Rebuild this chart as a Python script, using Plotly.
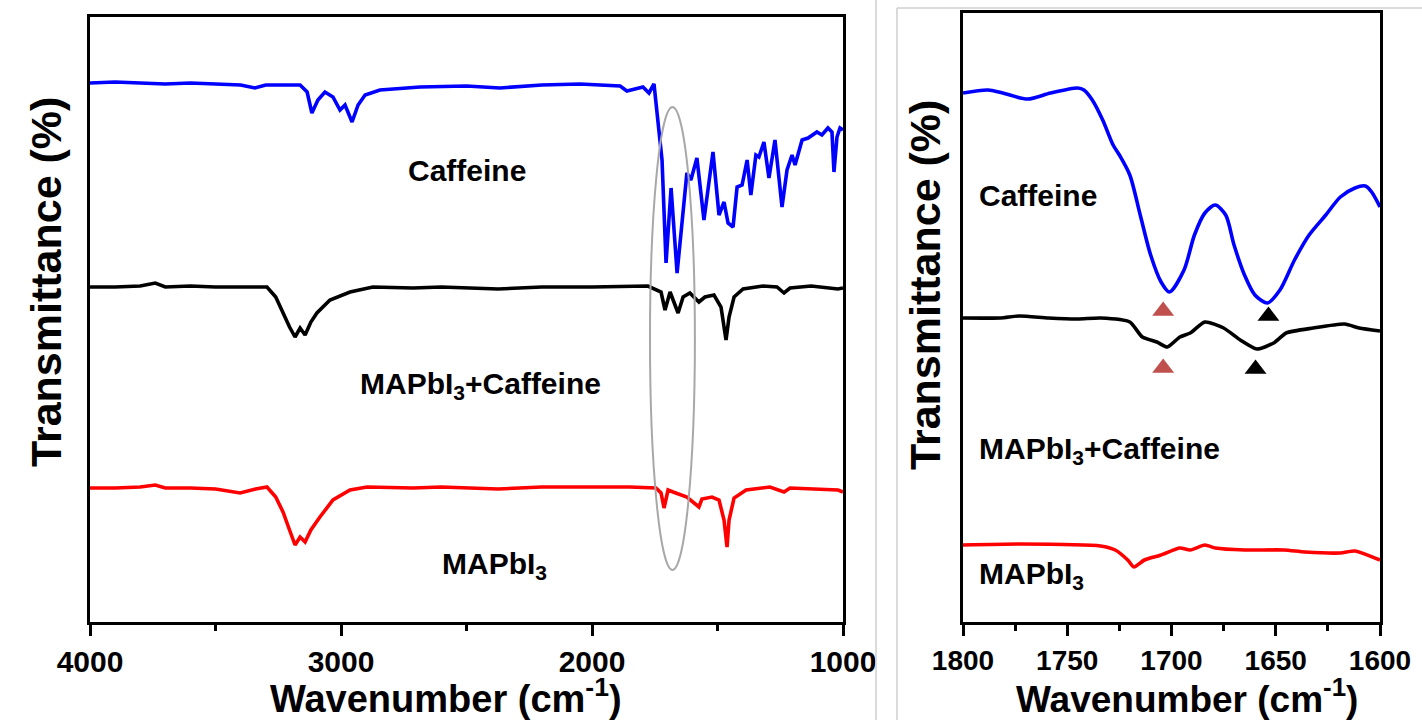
import plotly.graph_objects as go

# ---------------- data (left panel: full range) ----------------
blue_wn = [4000, 3900, 3800, 3700, 3600, 3500, 3400, 3343, 3300, 3200,
           3163, 3135, 3116, 3092, 3064, 3032, 3004, 2984, 2956, 2932,
           2904, 2845, 2685, 2500, 2367, 2200, 2048, 1888, 1861, 1797,
           1773, 1753, 1721, 1705, 1685, 1661, 1622, 1606, 1582, 1554,
           1518, 1494, 1474, 1458, 1438, 1422, 1402, 1382, 1367, 1347,
           1335, 1315, 1295, 1271, 1243, 1223, 1203, 1191, 1163, 1139,
           1104, 1084, 1060, 1044, 1036, 1024, 1012, 1000]
blue_T = [539, 540, 539, 538, 539, 538, 537, 534, 537, 537,
          537, 530, 509, 522, 530, 525, 512, 517, 500, 517,
          527, 532, 535, 536, 534, 537, 538, 536, 531, 535,
          529, 538, 462, 359, 434, 349, 449, 442, 464, 402,
          470, 407, 420, 399, 395, 435, 437, 462, 427, 467,
          465, 480, 444, 482, 415, 452, 467, 457, 482, 484,
          490, 487, 494, 490, 450, 485, 494, 492]

black_wn = [4000, 3900, 3800, 3740, 3700, 3600, 3500, 3400, 3295, 3260,
            3231, 3205, 3183, 3163, 3143, 3120, 3096, 3044, 2964, 2873,
            2713, 2600, 2374, 2200, 2000, 1850, 1777, 1725, 1709, 1689,
            1673, 1657, 1637, 1610, 1574, 1550, 1514, 1486, 1466, 1454,
            1434, 1398, 1319, 1263, 1235, 1211, 1127, 1020, 1000]
black_T = [335, 335, 336, 339, 335, 336, 335, 335, 335, 325,
           309, 295, 285, 294, 287, 300, 309, 322, 330, 335,
           334, 335, 333, 335, 335, 336, 336, 330, 312, 330,
           319, 309, 325, 329, 320, 325, 327, 315, 282, 305,
           325, 333, 336, 335, 329, 334, 336, 333, 334]

red_wn = [4000, 3900, 3800, 3740, 3700, 3600, 3500, 3402, 3340, 3295,
          3260, 3231, 3205, 3183, 3163, 3143, 3120, 3084, 3032, 2964,
          2896, 2713, 2600, 2374, 2200, 2000, 1850, 1745, 1725, 1713,
          1697, 1677, 1642, 1622, 1574, 1562, 1522, 1494, 1474, 1462,
          1454, 1434, 1386, 1291, 1235, 1211, 1020, 1000]
red_T = [134, 134, 135, 137, 134, 134, 133, 129, 133, 135,
         125, 110, 92, 77, 85, 80, 92, 105, 122, 132,
         135, 134, 135, 133, 135, 135, 135, 134, 129, 114,
         132, 130, 127, 125, 115, 123, 125, 122, 102, 75,
         102, 124, 132, 135, 130, 134, 132, 130]

# ---------------- data (right panel: 1800-1600 zoom) ----------------
blue_r_wn = [1800, 1788, 1781, 1769, 1758, 1745, 1742, 1738, 1733, 1728,
             1725, 1720, 1715, 1710, 1705, 1701, 1694, 1689, 1684, 1679,
             1674, 1670, 1665, 1660, 1654, 1648, 1641, 1634, 1626, 1619,
             1612, 1607, 1604, 1600]
blue_r_T = [529, 532, 529, 523, 529, 534, 532, 522, 502, 477,
            467, 447, 407, 367, 340, 330, 352, 387, 409, 417,
            407, 377, 347, 327, 319, 332, 362, 387, 407, 425,
            434, 436, 430, 415]

black_r_wn = [1800, 1782, 1773, 1759, 1745, 1734, 1720, 1714, 1707, 1702,
              1696, 1691, 1684, 1675, 1667, 1659, 1651, 1645, 1632, 1617,
              1610, 1600]
black_r_T = [304, 304, 306, 304, 303, 304, 300, 285, 280, 275,
             285, 289, 300, 294, 282, 273, 279, 289, 294, 298,
             294, 291]

red_r_wn = [1800, 1773, 1734, 1727, 1721, 1718, 1713, 1705, 1696, 1691,
            1684, 1679, 1665, 1646, 1636, 1619, 1612, 1600]
red_r_T = [77, 78, 76, 72, 62, 55, 62, 67, 74, 72,
           77, 74, 72, 72, 70, 69, 71, 62]

# peak markers (triangles)
tri_red_wn = [1704, 1704]
tri_red_T = [311, 254]
tri_blk_wn = [1653.5, 1659.7]
tri_blk_T = [306, 253]

labels = ["Caffeine", "MAPbI<sub>3</sub>+Caffeine", "MAPbI<sub>3</sub>"]
left_label_wn = [2498, 2446, 2387]
left_label_T = [452, 237, 57]
right_label_T = [427, 172, 47]

FONT = "Liberation Sans, Arial, sans-serif"
W, H = 1422, 720

fig = go.Figure()
lw = 3.6
fig.add_trace(go.Scatter(x=blue_wn, y=blue_T, mode="lines", line=dict(color="#0000ff", width=lw), xaxis="x", yaxis="y", showlegend=False))
fig.add_trace(go.Scatter(x=black_wn, y=black_T, mode="lines", line=dict(color="#000000", width=lw), xaxis="x", yaxis="y", showlegend=False))
fig.add_trace(go.Scatter(x=red_wn, y=red_T, mode="lines", line=dict(color="#ff0000", width=lw), xaxis="x", yaxis="y", showlegend=False))

fig.add_trace(go.Scatter(x=blue_r_wn, y=blue_r_T, mode="lines", line=dict(color="#0000ff", width=lw, shape="spline", smoothing=0.8), xaxis="x2", yaxis="y2", showlegend=False))
fig.add_trace(go.Scatter(x=black_r_wn, y=black_r_T, mode="lines", line=dict(color="#000000", width=lw, shape="spline", smoothing=0.6), xaxis="x2", yaxis="y2", showlegend=False))
fig.add_trace(go.Scatter(x=red_r_wn, y=red_r_T, mode="lines", line=dict(color="#ff0000", width=lw, shape="spline", smoothing=0.6), xaxis="x2", yaxis="y2", showlegend=False))

fig.add_trace(go.Scatter(x=tri_red_wn, y=tri_red_T, mode="markers", marker=dict(symbol="triangle-up", size=19, color="#c0504d"), xaxis="x2", yaxis="y2", showlegend=False))
fig.add_trace(go.Scatter(x=tri_blk_wn, y=tri_blk_T, mode="markers", marker=dict(symbol="triangle-up", size=19, color="#000000"), xaxis="x2", yaxis="y2", showlegend=False))

def px_x(p):
    return p / W

def px_y(p):
    return 1 - p / H

axis_common = dict(showline=True, linewidth=3, linecolor="black", mirror=True,
                   showgrid=False, zeroline=False, automargin=False)

def xcommon(size):
    return dict(axis_common, ticks="outside", ticklen=11, tickwidth=3, tickcolor="black",
                tickfont=dict(family=FONT, size=size, color="black", weight="bold"))

fig.update_layout(
    width=W, height=H,
    margin=dict(l=0, r=0, t=0, b=0, autoexpand=False),
    paper_bgcolor="white", plot_bgcolor="white",
    showlegend=False,
    xaxis=dict(xcommon(30), domain=[px_x(90), px_x(843)], range=[4000, 1000],
               tickvals=[4000, 3000, 2000, 1000],
               minor=dict(tickvals=[3500, 2500, 1500], ticks="outside", ticklen=6, tickwidth=3, tickcolor="black"),
               anchor="y"),
    yaxis=dict(axis_common, domain=[px_y(622), px_y(17)], range=[0, 605],
               showticklabels=False, ticks="", anchor="x"),
    xaxis2=dict(xcommon(28), domain=[px_x(963), px_x(1380)], range=[1800, 1600],
                tickvals=[1800, 1750, 1700, 1650, 1600],
                minor=dict(tickvals=[1775, 1725, 1675, 1625], ticks="outside", ticklen=6, tickwidth=3, tickcolor="black"),
                anchor="y2"),
    yaxis2=dict(axis_common, domain=[px_y(622), px_y(13)], range=[0, 609],
                showticklabels=False, ticks="", anchor="x2"),
)

# gray ellipse marking the carbonyl region
fig.add_shape(type="circle", xref="x", yref="y", x0=1769, x1=1590, y0=52, y1=515,
              line=dict(color="#a8a8a8", width=2))

# panel separators
fig.add_shape(type="line", xref="paper", yref="paper", x0=px_x(876), x1=px_x(876), y0=0, y1=1,
              line=dict(color="#cfcfcf", width=1.5))
fig.add_shape(type="line", xref="paper", yref="paper", x0=px_x(897), x1=px_x(897), y0=0, y1=px_y(8),
              line=dict(color="#cfcfcf", width=1.5))
fig.add_shape(type="line", xref="paper", yref="paper", x0=px_x(897), x1=1, y0=px_y(8), y1=px_y(8),
              line=dict(color="#cfcfcf", width=1.5))

lab_font = dict(family=FONT, size=30, color="black", weight="bold")
for t, xw, yv in zip(labels, left_label_wn, left_label_T):
    fig.add_annotation(text=t, x=xw, y=yv, xref="x", yref="y", showarrow=False,
                       xanchor="center", yanchor="middle", font=lab_font)
for t, yv in zip(labels, right_label_T):
    fig.add_annotation(text=t, x=px_x(977), y=yv, xref="paper", yref="y2", showarrow=False,
                       xanchor="left", yanchor="middle", font=lab_font)

fig.add_annotation(text="Wavenumber (cm<sup>-1</sup>)", x=px_x(446), y=px_y(696), xref="paper", yref="paper",
                   showarrow=False, xanchor="center", yanchor="middle",
                   font=dict(family=FONT, size=38, color="black", weight="bold"))
fig.add_annotation(text="Wavenumber (cm<sup>-1</sup>)", x=px_x(1187), y=px_y(696), xref="paper", yref="paper",
                   showarrow=False, xanchor="center", yanchor="middle",
                   font=dict(family=FONT, size=37, color="black", weight="bold"))
ytitle_font = dict(family=FONT, size=43, color="black", weight="bold")
fig.add_annotation(text="Transmittance (%)", x=px_x(46), y=px_y(282), xref="paper", yref="paper",
                   showarrow=False, textangle=-90, xanchor="center", yanchor="middle", font=ytitle_font)
fig.add_annotation(text="Transmittance (%)", x=px_x(925), y=px_y(285), xref="paper", yref="paper",
                   showarrow=False, textangle=-90, xanchor="center", yanchor="middle", font=ytitle_font)

fig.write_html("out.html", config={"displayModeBar": False},
               post_script="document.body.style.margin='0';document.body.style.overflow='hidden';")
